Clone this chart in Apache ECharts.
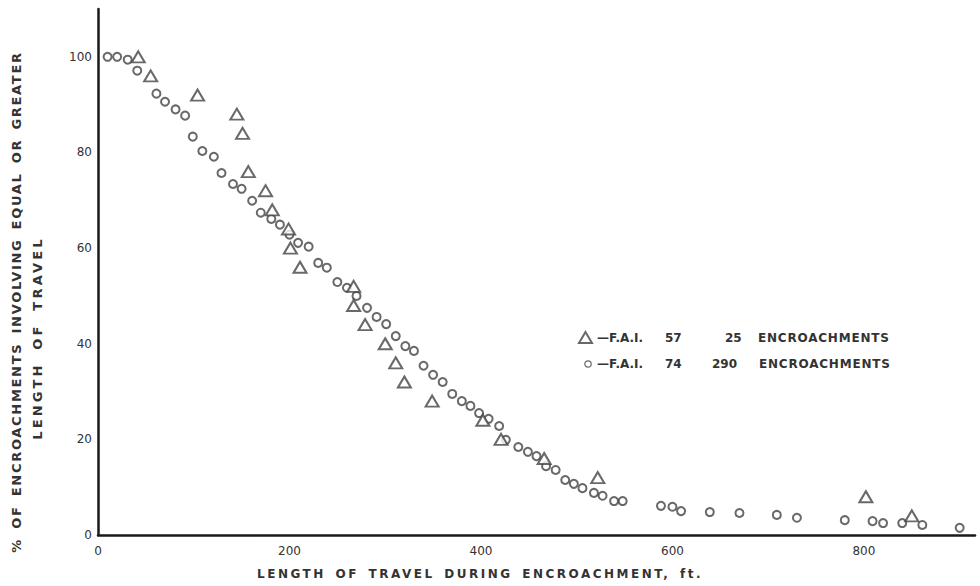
<!DOCTYPE html>
<html>
<head>
<meta charset="utf-8">
<script src="https://cdn.jsdelivr.net/npm/echarts@6/dist/echarts.min.js"></script>
<style>
  html, body { margin: 0; padding: 0; background: #fff; }
  #chart { width: 980px; height: 586px; }
</style>
</head>
<body>
<div id="chart"></div>
<script>
// Length of travel (ft) vs. % of encroachments with equal or greater travel
const xTicks = [0, 200, 400, 600, 800];
const yTicks = [0, 20, 40, 60, 80, 100];

// F.A.I. 57 — 25 encroachments (triangles)
const fai57 = [
  [42, 100], [55, 96], [104, 92], [145, 88], [151, 84], [157, 76], [175, 72],
  [182, 68], [199, 64], [201, 60], [211, 56], [267, 52], [267, 48], [279, 44],
  [300, 40], [311, 36], [320, 32], [349, 28], [402, 24], [421, 20], [466, 16],
  [522, 12], [802, 8], [850, 4]
];

// F.A.I. 74 — 290 encroachments (circles)
const fai74 = [
  [10, 100], [20, 100], [31, 99.4], [41, 97.1], [61, 92.3], [70, 90.6], [81, 89],
  [91, 87.7], [99, 83.3], [109, 80.3], [121, 79.1], [129, 75.7], [141, 73.4],
  [150, 72.4], [161, 69.9], [170, 67.4], [181, 66.1], [190, 64.9], [200, 62.8],
  [209, 61.1], [220, 60.3], [230, 56.9], [239, 55.9], [250, 52.9], [260, 51.7],
  [270, 50], [281, 47.5], [291, 45.6], [301, 44.1], [311, 41.6], [321, 39.5],
  [330, 38.5], [340, 35.4], [350, 33.5], [360, 32], [370, 29.5], [380, 28],
  [389, 27], [398, 25.5], [408, 24.3], [419, 22.8], [426, 19.9], [439, 18.4],
  [449, 17.4], [458, 16.5], [468, 14.4], [478, 13.6], [488, 11.5], [497, 10.7],
  [506, 9.8], [518, 8.8], [527, 8.2], [539, 7.1], [548, 7.1], [588, 6.1],
  [600, 5.9], [609, 5], [639, 4.8], [670, 4.6], [709, 4.2], [730, 3.6],
  [780, 3.1], [809, 2.9], [820, 2.5], [840, 2.5], [861, 2.1], [900, 1.5]
];

// Legend texts per series
const legendFai = { 'F.A.I. 57': '57', 'F.A.I. 74': '74' };
const legendCount = { 'F.A.I. 57': '25', 'F.A.I. 74': '290' };
// Column widths of the legend rows (rich-text token boxes)
const legendCols = {
  'F.A.I. 57': { b: 60, c: 33 },
  'F.A.I. 74': { b: 47, c: 47 }
};

const yTitle1 = '% OF ENCROACHMENTS INVOLVING EQUAL OR GREATER';
const yTitle2 = 'LENGTH OF TRAVEL';
const xTitle = 'LENGTH OF TRAVEL DURING ENCROACHMENT, ft.';

// Spaced-out lettering for the hand-lettered titles (applied to the SVG text nodes)
const spacing = {
  [yTitle1]: { letter: 1.7, word: 3 },
  [yTitle2]: { letter: 3.2, word: 5 },
  [xTitle]: { letter: 2.5, word: 3 },
  'ENCROACHMENTS': { letter: 0.8, word: 0 }
};

const ink = '#333';
const markColor = '#444';
const font = 'DejaVu Sans';

// Small open circle for the legend key, drawn toward the right of its box
const circleIcon = 'image://data:image/svg+xml;charset=utf-8,' + encodeURIComponent(
  '<svg xmlns="http://www.w3.org/2000/svg" width="13" height="11">' +
  '<circle cx="9" cy="5.5" r="3.2" fill="none" stroke="' + markColor + '" stroke-width="1.2"/></svg>'
);

const chart = echarts.init(document.getElementById('chart'), null, { renderer: 'svg' });

const richBase = { color: ink, fontFamily: font, fontSize: 12, fontWeight: 'bold' };
const rich = { a: Object.assign({ width: 68 }, richBase), d: Object.assign({}, richBase) };
Object.keys(legendCols).forEach((name, i) => {
  rich['b' + i] = Object.assign({ width: legendCols[name].b }, richBase);
  rich['c' + i] = Object.assign({ width: legendCols[name].c }, richBase);
});

chart.setOption({
  backgroundColor: '#fff',
  animation: false,
  grid: { left: 98, right: 5, top: 9, bottom: 51, containLabel: false },
  xAxis: {
    type: 'value',
    min: 0, max: 916, interval: 200,
    axisLine: { show: true, onZero: false, lineStyle: { color: '#1a1a1a', width: 2.5 } },
    axisTick: { show: false },
    splitLine: { show: false },
    axisLabel: {
      margin: 10, color: ink, fontFamily: font, fontSize: 12,
      showMaxLabel: false,
      formatter: v => (xTicks.includes(v) ? String(v) : '')
    }
  },
  yAxis: {
    type: 'value',
    min: 0, max: 110, interval: 20,
    axisLine: { show: true, onZero: false, lineStyle: { color: '#1a1a1a', width: 2.5 } },
    axisTick: { show: false },
    splitLine: { show: false },
    axisLabel: {
      margin: 6, color: ink, fontFamily: font, fontSize: 12,
      showMaxLabel: false,
      formatter: v => (yTicks.includes(v) ? String(v) : '')
    }
  },
  legend: {
    orient: 'vertical',
    left: 573, top: 326,
    itemGap: 14,
    itemWidth: 13, itemHeight: 11,
    data: [
      { name: 'F.A.I. 57', icon: 'emptyTriangle' },
      { name: 'F.A.I. 74', icon: circleIcon }
    ],
    formatter: name => {
      const i = Object.keys(legendCols).indexOf(name);
      return '{a|—F.A.I.}{b' + i + '|' + legendFai[name] + '}{c' + i + '|' +
        legendCount[name] + '}{d|ENCROACHMENTS}';
    },
    textStyle: Object.assign({}, richBase, { rich: rich })
  },
  graphic: [
    {
      type: 'text', x: 16, y: 302, rotation: Math.PI / 2,
      style: {
        text: yTitle1, fill: ink, font: 'bold 13px "DejaVu Sans"',
        textAlign: 'center', textVerticalAlign: 'middle'
      }
    },
    {
      type: 'text', x: 37, y: 338, rotation: Math.PI / 2,
      style: {
        text: yTitle2, fill: ink, font: 'bold 13px "DejaVu Sans"',
        textAlign: 'center', textVerticalAlign: 'middle'
      }
    },
    {
      type: 'text', x: 480, y: 574,
      style: {
        text: xTitle, fill: ink, font: 'bold 12px "DejaVu Sans"',
        textAlign: 'center', textVerticalAlign: 'middle'
      }
    }
  ],
  series: [
    {
      name: 'F.A.I. 74',
      type: 'scatter',
      data: fai74,
      symbol: 'emptyCircle',
      symbolSize: 8,
      itemStyle: { color: markColor, borderColor: markColor, borderWidth: 1.3 },
      z: 2
    },
    {
      name: 'F.A.I. 57',
      type: 'scatter',
      data: fai57,
      symbol: 'emptyTriangle',
      symbolSize: [13, 11],
      itemStyle: { color: markColor, borderColor: markColor, borderWidth: 1.3 },
      z: 3
    }
  ]
});

function applyLetterSpacing() {
  document.querySelectorAll('#chart svg text').forEach(t => {
    const s = spacing[t.textContent];
    if (s) {
      t.style.letterSpacing = s.letter + 'px';
      t.style.wordSpacing = s.word + 'px';
    }
  });
}
chart.on('finished', applyLetterSpacing);
applyLetterSpacing();
</script>
</body>
</html>
